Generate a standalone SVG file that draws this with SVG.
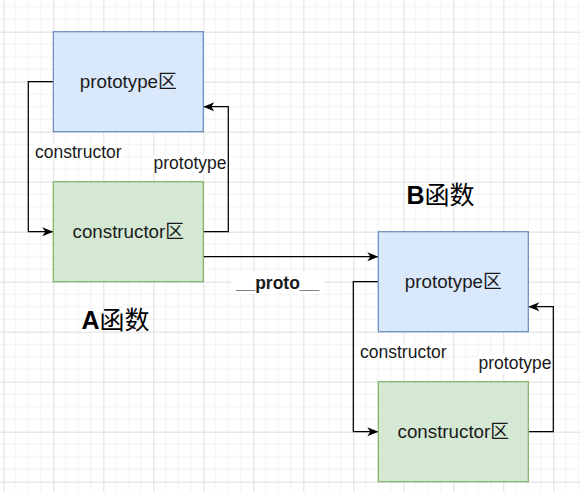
<svg xmlns="http://www.w3.org/2000/svg" width="581" height="492" viewBox="0 0 581 492">
<style>
.blue{fill:#dae8fc;stroke:#6c8ebf;stroke-width:1.25}
.green{fill:#d5e8d4;stroke:#82b366;stroke-width:1.25}
.nt{font-family:"Liberation Sans","Noto Sans CJK SC",sans-serif;font-size:18.75px;fill:#1a1a1a;text-anchor:middle}
.lbl{font-family:"Liberation Sans","Noto Sans CJK SC",sans-serif;font-size:17.5px;fill:#1a1a1a}
.ttl{font-family:"Liberation Sans","Noto Sans CJK SC",sans-serif;font-size:25px;font-weight:bold;fill:#000}
.cjk{font-family:"Noto Sans CJK SC",sans-serif;font-weight:normal}
.edge{fill:none;stroke:#000;stroke-width:1.25}
.bg{fill:#fff}
.minor{stroke:#f2f2f2;stroke-width:1}
.major{stroke:#dedede;stroke-width:1}
</style>
<defs>
<pattern id="grid" patternUnits="userSpaceOnUse" x="3.33" y="31.67" width="50" height="50">
<path class="minor" d="M12.5,0V50M25,0V50M37.5,0V50M0,12.5H50M0,25H50M0,37.5H50"/>
<path class="major" d="M0.5,0V50M0,0.5H50"/>
</pattern>
<marker id="arr" markerUnits="userSpaceOnUse" viewBox="-12 -6 13 12" refX="0" refY="0" markerWidth="13" markerHeight="12" orient="auto">
<path d="M0,0 L-11,-4.5 L-8,0 L-11,4.5 Z" fill="#000"/>
</marker>
</defs>
<rect width="581" height="492" fill="#fff"/>
<rect width="581" height="492" fill="url(#grid)"/>

<g id="connectors">
<path class="edge" d="M53.3,81.7 H28.3 V231.7 H53.3" marker-end="url(#arr)"/>
<path class="edge" d="M203.3,231.7 H228.3 V106.7 H203.3" marker-end="url(#arr)"/>
<path class="edge" d="M203.3,256.7 H378.3" marker-end="url(#arr)"/>
<path class="edge" d="M378.3,281.7 H353.3 V431.7 H378.3" marker-end="url(#arr)"/>
<path class="edge" d="M528.3,431.7 H553.3 V306.7 H528.3" marker-end="url(#arr)"/>
<rect class="bg" x="34" y="143" width="87" height="18"/>
<text class="lbl" x="35" y="157.5">constructor</text>
<rect class="bg" x="153" y="155" width="74" height="19"/>
<text class="lbl" x="226.5" y="168.5" text-anchor="end">prototype</text>
<rect class="bg" x="231" y="271" width="93" height="23"/>
<text class="lbl" x="277.5" y="288.5" text-anchor="middle" font-weight="bold" font-size="19.5">__proto__</text>
<rect class="bg" x="359" y="343" width="88" height="18"/>
<text class="lbl" x="360" y="357.5">constructor</text>
<rect class="bg" x="478" y="355" width="74" height="19"/>
<text class="lbl" x="551.5" y="368.5" text-anchor="end">prototype</text>
</g>

<g id="a-prototype">
<rect class="blue" x="53.3" y="31.7" width="150" height="100"/>
<text class="nt" x="128.3" y="88.3">prototype<tspan class="cjk">区</tspan></text>
</g>
<g id="a-constructor">
<rect class="green" x="53.3" y="181.7" width="150" height="100"/>
<text class="nt" x="128.3" y="238.3">constructor<tspan class="cjk">区</tspan></text>
</g>
<g id="b-prototype">
<rect class="blue" x="378.3" y="231.7" width="150" height="100"/>
<text class="nt" x="453.3" y="288.3">prototype<tspan class="cjk">区</tspan></text>
</g>
<g id="b-constructor">
<rect class="green" x="378.3" y="381.7" width="150" height="100"/>
<text class="nt" x="453.3" y="438.3">constructor<tspan class="cjk">区</tspan></text>
</g>
<g id="a-title">
<text class="ttl" x="81.5" y="328.5">A<tspan class="cjk">函数</tspan></text>
</g>
<g id="b-title">
<text class="ttl" x="406.5" y="203.5">B<tspan class="cjk">函数</tspan></text>
</g>
</svg>
